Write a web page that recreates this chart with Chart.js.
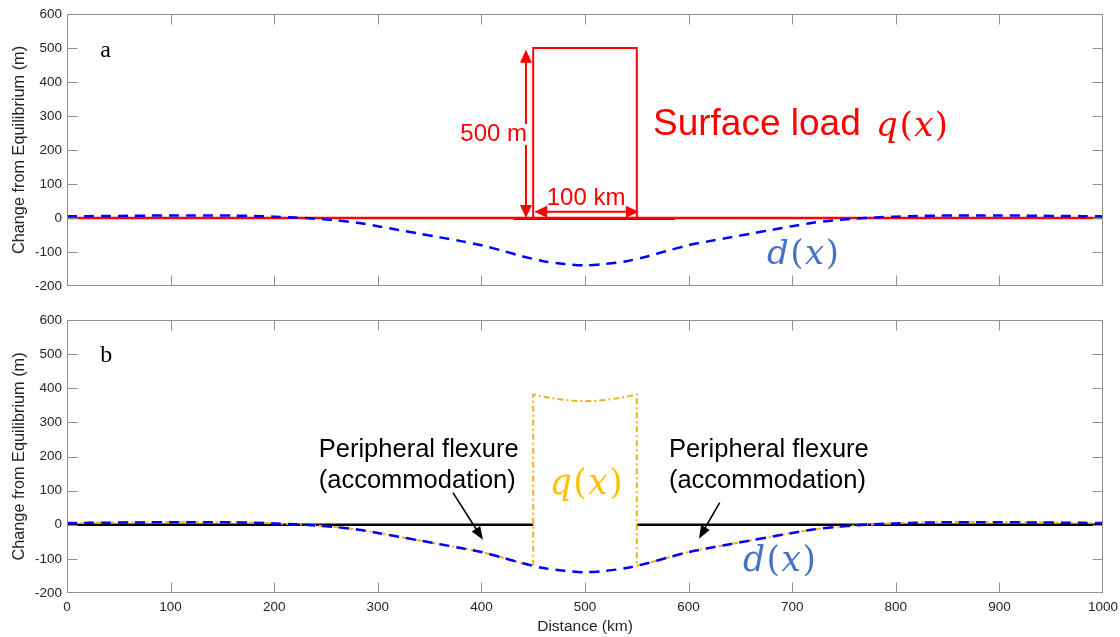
<!DOCTYPE html>
<html><head><meta charset="utf-8">
<script src="https://cdn.jsdelivr.net/npm/chart.js@4.4.1/dist/chart.umd.min.js"></script>
<style>
html,body{margin:0;padding:0;background:#fff;width:1120px;height:637px;overflow:hidden;}
canvas{position:absolute;left:0;}
#ca{top:0}
#cb{top:300px}
</style></head><body>
<canvas id="ca" width="1120" height="300"></canvas>
<canvas id="cb" width="1120" height="337"></canvas>
<script>
// ---------- data (km, m) ----------
const distanceKm = [0,20,40,60,80,100,120,140,160,180,200,220,240,260,280,300,320,340,360,380,400,420,440,460,480,500,520,540,560,580,600,620,640,660,680,700,720,740,760,780,800,820,840,860,880,900,920,940,960,980,1000];
const deflectionM = [5,5.5,6,6.5,7,7.5,7.5,7.5,7,6,4,1.5,-2,-7,-14,-24,-35,-46,-57,-68,-80,-96,-113,-127,-135,-139,-135,-127,-113,-96,-80,-68,-57,-46,-35,-24,-14,-7,-2,1.5,4,6,7,7.5,7.5,7.5,7,6.5,6,5.5,5];

// panel a: rectangular surface load (500 m high, 100 km wide)
const loadAX = [450,450,550,550];
const loadAY = [0,500,500,0];
const baseAX = [0,1000];
const baseAY = [0,0];
const markAX = [431,587];
const markAY = [-3,-3];

// panel b: deformed load q(x)
const qLeftX = [0,20,40,60,80,100,120,140,160,180,200,220,240,260,280,300,320,340,360,380,400,420,440,450];
const qLeftY = [5,5.5,6,6.5,7,7.5,7.5,7.5,7,6,4,1.5,-2,-7,-14,-24,-35,-46,-57,-68,-80,-96,-113,-120];
const qLoadX = [450,450,460,470,480,490,500,510,520,530,540,550,550];
const qLoadY = [-120,382,375,370,366,363,362,363,366,370,375,382,-120];
const qRightX = [550,560,580,600,620,640,660,680,700,720,740,760,780,800,820,840,860,880,900,920,940,960,980,1000];
const qRightY = [-120,-113,-96,-80,-68,-57,-46,-35,-24,-14,-7,-2,1.5,4,6,7,7.5,7.5,7.5,7,6.5,6,5.5,5];
const zeroBX = [0,450,500,550,1000];
const zeroBY = [0,0,null,0,0];

const xTicksKm = [0,100,200,300,400,500,600,700,800,900,1000];
const yTicksM = [-200,-100,0,100,200,300,400,500,600];

const pts = (xs, ys) => xs.map((x, i) => ({x, y: ys[i]}));

// ---------- styling helpers ----------
const SANS = '"Liberation Sans", Arial, Helvetica, sans-serif';
const SERIF = '"Liberation Serif", "Times New Roman", serif';
const MATH = '"DejaVu Serif", serif';
const AXIS_GREY = '#8f8f8f';
const TEXT_GREY = '#262626';

const matlabAxes = {
  id: 'matlabAxes',
  afterDraw(chart) {
    const {ctx, chartArea: {left, right, top, bottom}, scales: {x, y}} = chart;
    const L = 10;
    const l = Math.round(left) + 0.5, r = Math.round(right) - 0.5;
    const t = Math.round(top) + 0.5, b = Math.round(bottom) - 0.5;
    ctx.save();
    ctx.strokeStyle = AXIS_GREY;
    ctx.lineWidth = 1;
    ctx.beginPath();
    x.ticks.forEach(tk => {
      const px = Math.min(Math.max(Math.round(x.getPixelForValue(tk.value)) + 0.5, l), r);
      ctx.moveTo(px, b); ctx.lineTo(px, b - L);
      ctx.moveTo(px, t); ctx.lineTo(px, t + L);
    });
    y.ticks.forEach(tk => {
      const py = Math.min(Math.max(Math.round(y.getPixelForValue(tk.value)) + 0.5, t), b);
      ctx.moveTo(l, py); ctx.lineTo(l + L, py);
      ctx.moveTo(r, py); ctx.lineTo(r - L, py);
    });
    ctx.stroke();
    ctx.strokeRect(l, t, r - l, b - t);
    ctx.restore();
  }
};

function drawArrow(ctx, x1, y1, x2, y2, headLen, headW, both) {
  const ang = Math.atan2(y2 - y1, x2 - x1);
  const head = (tx, ty, a) => {
    ctx.beginPath();
    ctx.moveTo(tx, ty);
    ctx.lineTo(tx - headLen * Math.cos(a) + headW / 2 * Math.sin(a), ty - headLen * Math.sin(a) - headW / 2 * Math.cos(a));
    ctx.lineTo(tx - headLen * Math.cos(a) - headW / 2 * Math.sin(a), ty - headLen * Math.sin(a) + headW / 2 * Math.cos(a));
    ctx.closePath();
    ctx.fill();
  };
  const sx = both ? x1 + headLen * 0.8 * Math.cos(ang) : x1;
  const sy = both ? y1 + headLen * 0.8 * Math.sin(ang) : y1;
  ctx.beginPath();
  ctx.moveTo(sx, sy);
  ctx.lineTo(x2 - headLen * 0.8 * Math.cos(ang), y2 - headLen * 0.8 * Math.sin(ang));
  ctx.stroke();
  head(x2, y2, ang);
  if (both) head(x1, y1, ang + Math.PI);
}

function mathText(ctx, parts, x, y, size, color) {
  ctx.fillStyle = color;
  ctx.textBaseline = 'alphabetic';
  ctx.textAlign = 'left';
  let cx = x;
  for (const [t, it] of parts) {
    ctx.font = (it ? 'italic ' : '') + size + 'px ' + MATH;
    ctx.fillText(t, cx, y);
    cx += ctx.measureText(t).width + 1.5;
  }
}

// annotations in data units
const annotationsA = {
  id: 'annA',
  afterDatasetsDraw(chart) {
    const {ctx, scales: {x, y}} = chart;
    const X = v => x.getPixelForValue(v), Y = v => y.getPixelForValue(v);
    ctx.save();
    ctx.fillStyle = '#000'; ctx.font = '24px ' + SERIF; ctx.textBaseline = 'alphabetic'; ctx.textAlign = 'left';
    ctx.fillText('a', X(32), Y(474));
    ctx.strokeStyle = '#ff0000'; ctx.fillStyle = '#ff0000'; ctx.lineWidth = 2;
    drawArrow(ctx, X(443), Y(0), X(443), Y(495), 13, 12, true);
    drawArrow(ctx, X(451), Y(18.5), X(552), Y(18.5), 13, 12, true);
    ctx.font = '24px ' + SANS; ctx.textAlign = 'right';
    const w = ctx.measureText('500 m').width;
    ctx.fillStyle = '#fff';
    ctx.fillRect(X(444) - w - 1, Y(226.5) - 17, w + 2, 21);
    ctx.fillStyle = '#ff0000';
    ctx.fillText('500 m', X(444), Y(226.5));
    ctx.textAlign = 'center';
    ctx.fillText('100 km', X(501), Y(38));
    ctx.textAlign = 'left';
    ctx.font = '37px ' + SANS;
    ctx.fillText('Surface load', X(565.6), Y(244));
    mathText(ctx, [['q', true], ['(', false], ['x', true], [')', false]], X(781), Y(241), 34, '#ff0000');
    mathText(ctx, [['d', true], ['(', false], ['x', true], [')', false]], X(675.7), Y(-135), 34, '#4472c4');
    ctx.restore();
  }
};

const annotationsB = {
  id: 'annB',
  afterDatasetsDraw(chart) {
    const {ctx, scales: {x, y}} = chart;
    const X = v => x.getPixelForValue(v), Y = v => y.getPixelForValue(v);
    ctx.save();
    ctx.fillStyle = '#000'; ctx.font = '24px ' + SERIF; ctx.textBaseline = 'alphabetic'; ctx.textAlign = 'left';
    ctx.fillText('b', X(32), Y(477));
    ctx.font = '25.5px ' + SANS;
    ctx.fillStyle = '#000';
    ctx.fillText('Peripheral flexure', X(243), Y(199));
    ctx.fillText('(accommodation)', X(243), Y(108));
    ctx.fillText('Peripheral flexure', X(581), Y(199));
    ctx.fillText('(accommodation)', X(581), Y(108));
    ctx.strokeStyle = '#000'; ctx.fillStyle = '#000'; ctx.lineWidth = 1.6;
    drawArrow(ctx, X(372.5), Y(94), X(401.5), Y(-44), 13, 10, false);
    drawArrow(ctx, X(630), Y(65), X(610), Y(-41), 13, 10, false);
    mathText(ctx, [['q', true], ['(', false], ['x', true], [')', false]], X(466), Y(91), 34.5, '#ffc000');
    mathText(ctx, [['d', true], ['(', false], ['x', true], [')', false]], X(652.5), Y(-135), 34.5, '#4472c4');
    ctx.restore();
  }
};

function axesOptions(showX, padTop, xHeight) {
  return {
    responsive: false, animation: false, devicePixelRatio: 1,
    layout: {padding: {left: 0, right: 17, top: padTop, bottom: 0}},
    plugins: {legend: {display: false}, tooltip: {enabled: false}},
    elements: {point: {radius: 0}},
    scales: {
      x: {
        type: 'linear', min: 0, max: 1000,
        afterBuildTicks: s => { s.ticks = xTicksKm.map(v => ({value: v})); },
        ticks: {display: showX, autoSkip: false, maxRotation: 0, padding: 6, color: TEXT_GREY, font: {family: SANS, size: 13.5}, callback: v => String(v)},
        grid: {display: false, drawTicks: false}, border: {display: false},
        title: {display: showX, text: 'Distance (km)', color: TEXT_GREY, font: {family: SANS, size: 15.5}, padding: {top: 4, bottom: 1}},
        afterFit: s => { s.height = xHeight; s.paddingRight = 0; s.paddingLeft = 0; }
      },
      y: {
        type: 'linear', min: -200, max: 600,
        afterBuildTicks: s => { s.ticks = yTicksM.map(v => ({value: v})); },
        ticks: {padding: 5, color: TEXT_GREY, font: {family: SANS, size: 13.5}, callback: v => String(v)},
        grid: {display: false, drawTicks: false}, border: {display: false},
        title: {display: true, text: 'Change from Equilibrium (m)', color: TEXT_GREY, font: {family: SANS, size: 16.3}, padding: {top: 10, bottom: 0}},
        afterFit: s => { s.width = 67; s.paddingTop = 0; s.paddingBottom = 0; }
      }
    }
  };
}

new Chart(document.getElementById('ca'), {
  type: 'line',
  data: {
    datasets: [
      {data: pts(distanceKm, deflectionM), borderColor: '#0000ff', borderWidth: 2.5, borderDash: [10, 7], tension: 0.3, fill: false},
      {data: pts(loadAX, loadAY), borderColor: '#ff0000', borderWidth: 2, tension: 0, fill: false},
      {data: pts(baseAX, baseAY), borderColor: '#ff0000', borderWidth: 2.5, tension: 0, fill: false},
      {data: pts(markAX, markAY), borderColor: '#b00000', borderWidth: 2, tension: 0, fill: false}
    ]
  },
  options: axesOptions(false, 14, 14),
  plugins: [annotationsA, matlabAxes]
});

new Chart(document.getElementById('cb'), {
  type: 'line',
  data: {
    datasets: [
      {data: pts(distanceKm, deflectionM), borderColor: '#0000ff', borderWidth: 2.5, borderDash: [10, 7], tension: 0.3, fill: false},
      {data: pts(qLeftX, qLeftY), borderColor: '#edb120', borderWidth: 2, borderDash: [6, 3, 2, 3], tension: 0.3, fill: false},
      {data: pts(qLoadX, qLoadY), borderColor: '#edb120', borderWidth: 2, borderDash: [6, 3, 2, 3], tension: 0, fill: false},
      {data: pts(qRightX, qRightY), borderColor: '#edb120', borderWidth: 2, borderDash: [6, 3, 2, 3], tension: 0.3, fill: false},
      {data: pts(zeroBX, zeroBY), borderColor: '#000000', borderWidth: 2.5, tension: 0, fill: false, spanGaps: false}
    ]
  },
  options: axesOptions(true, 20, 44),
  plugins: [annotationsB, matlabAxes]
});
</script>
</body></html>
